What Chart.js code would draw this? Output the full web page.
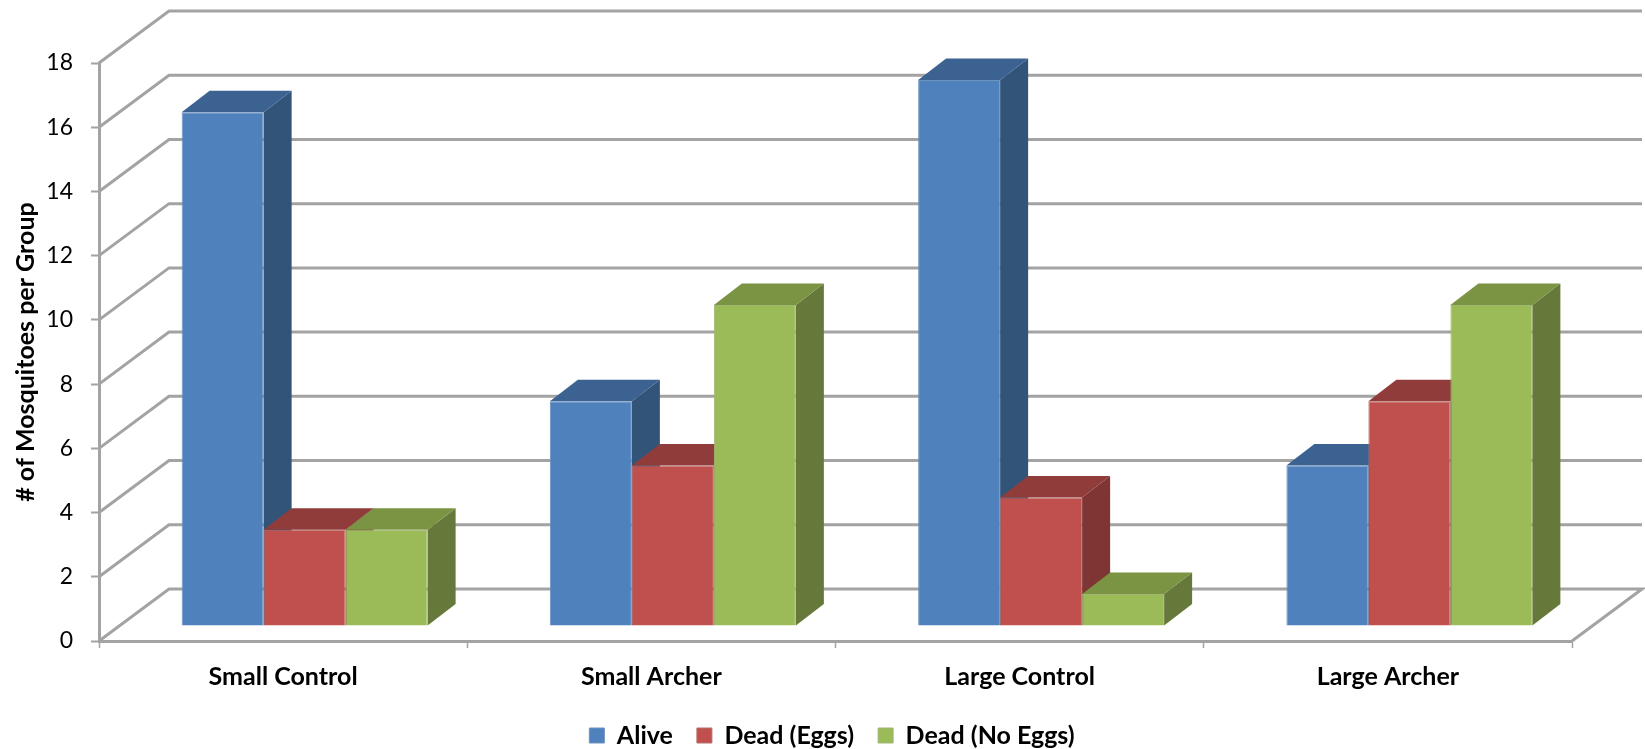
<!DOCTYPE html>
<html>
<head>
<meta charset="utf-8">
<title>Mosquitoes per group</title>
<script src="https://cdn.jsdelivr.net/npm/chart.js@4"></script>
<style>
  html, body { margin: 0; padding: 0; background: #fff; }
  canvas { display: block; }
</style>
</head>
<body>
<canvas id="chart" width="1645" height="749"></canvas>
<script>
const categories = ["Small Control", "Small Archer", "Large Control", "Large Archer"];
const alive = [16, 7, 17, 5];
const deadEggs = [3, 5, 4, 7];
const deadNoEggs = [3, 10, 1, 10];

const FONT = "Lato, Carlito, sans-serif";
const GRID = "#a3a3a3";

// --- 3D look: depth of the box and how far the bars sit inside it ---
const WALL = { dx: 70, dy: -52 };
const BAR_SHIFT = { dx: 21.5, dy: -15 };
const BAR_DEPTH = { dx: 28, dy: -21.5 };

const faces = [
  { front: "#4f81bd", edge: "#6d93bf", side: "#325479", top: "#3b6291" },
  { front: "#c0504d", edge: "#b7706d", side: "#7e3533", top: "#8f3c3a" },
  { front: "#9bbb59", edge: "#a1b875", side: "#66793a", top: "#7a9443" }
];

function poly(ctx, pts, fill) {
  ctx.beginPath();
  pts.forEach((p, i) => (i ? ctx.lineTo(p[0], p[1]) : ctx.moveTo(p[0], p[1])));
  ctx.closePath();
  ctx.fillStyle = fill;
  ctx.fill();
}

// --- Walls, floor and the top/side faces of the bars ---
const box3d = {
  id: "box3d",
  afterLayout(chart) {
    // legend is centred on the whole picture in the original, not the plot
    chart.legend.right += 92;
    chart.legend.top += 9;
  },
  beforeDatasetsDraw(chart) {
    const { ctx, scales } = chart;
    const left = scales.x.left;
    const right = scales.x.right;

    ctx.save();
    ctx.strokeStyle = GRID;
    ctx.lineWidth = 3;
    scales.y.ticks.forEach(t => {
      const y = scales.y.getPixelForValue(t.value);
      ctx.beginPath();
      ctx.moveTo(left, y);
      ctx.lineTo(left + WALL.dx, y + WALL.dy);
      ctx.lineTo(right + WALL.dx, y + WALL.dy);
      if (t.value === 0) ctx.lineTo(right, y);
      ctx.stroke();
    });
    ctx.restore();

    // restored in afterDatasetsDraw, so the front faces get the same shift
    ctx.save();
    ctx.translate(BAR_SHIFT.dx, BAR_SHIFT.dy);
    categories.forEach((c, i) => {
      chart.data.datasets.forEach((ds, d) => {
        const bar = chart.getDatasetMeta(d).data[i];
        const x0 = bar.x - bar.width / 2;
        const x1 = bar.x + bar.width / 2;
        const a = BAR_DEPTH.dx;
        const b = BAR_DEPTH.dy;
        poly(ctx, [[x1, bar.y], [x1 + a, bar.y + b], [x1 + a, bar.base + b], [x1, bar.base]], faces[d].side);
        poly(ctx, [[x0, bar.y], [x0 + a, bar.y + b], [x1 + a, bar.y + b], [x1, bar.y]], faces[d].top);
      });
    });
  },
  afterDatasetsDraw(chart) {
    chart.ctx.restore();
  }
};

function series(label, data, i) {
  return {
    label,
    data,
    backgroundColor: faces[i].front,
    borderColor: faces[i].edge,
    borderWidth: 1,
    categoryPercentage: 0.668,
    barPercentage: 1
  };
}

new Chart(document.getElementById("chart").getContext("2d"), {
  type: "bar",
  data: {
    labels: categories,
    datasets: [
      series("Alive", alive, 0),
      series("Dead (Eggs)", deadEggs, 1),
      series("Dead (No Eggs)", deadNoEggs, 2)
    ]
  },
  plugins: [box3d],
  options: {
    responsive: false,
    animation: false,
    layout: { autoPadding: false, padding: { top: 63, right: 73, left: 0, bottom: 0 } },
    plugins: {
      tooltip: { enabled: false },
      legend: {
        position: "bottom",
        labels: {
          color: "#000",
          font: { family: FONT, size: 25, weight: "bold" },
          boxWidth: 15,
          boxHeight: 15,
          padding: 24
        }
      }
    },
    scales: {
      x: {
        afterFit(s) { s.height = 49; },
        border: { color: GRID, width: 3 },
        grid: { drawOnChartArea: false, color: GRID, tickColor: GRID, tickLength: 7, tickWidth: 1.5 },
        ticks: { color: "#000", padding: 14, font: { family: FONT, size: 25, weight: "bold" }, maxRotation: 0 }
      },
      y: {
        min: 0,
        max: 18,
        afterFit(s) { s.width = 99; },
        border: { color: GRID, width: 3 },
        grid: { drawOnChartArea: false, color: GRID, tickColor: GRID, tickLength: 8, tickWidth: 2 },
        ticks: { stepSize: 2, color: "#000", padding: 18, font: { family: FONT, size: 23 } },
        title: {
          display: true,
          text: "# of Mosquitoes per Group",
          color: "#000",
          font: { family: FONT, size: 25, weight: "bold" },
          padding: { top: 11, bottom: 0 }
        }
      }
    }
  }
});
</script>
</body>
</html>
